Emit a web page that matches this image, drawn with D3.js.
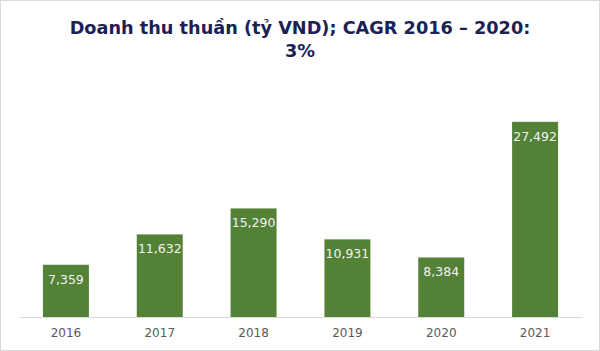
<!DOCTYPE html>
<html>
<head>
<meta charset="utf-8">
<script src="https://cdn.jsdelivr.net/npm/d3@7"></script>
<style>
  html, body { margin: 0; padding: 0; background: #fff; }
  svg { display: block; font-family: "DejaVu Sans", Verdana, sans-serif; }
</style>
</head>
<body>
<div id="chart"></div>
<script>
// Net revenue bar chart (billion VND)
const years = ['2016', '2017', '2018', '2019', '2020', '2021'];
const revenue = [7359, 11632, 15290, 10931, 8384, 27492];
const titleLines = ['Doanh thu thuần (tỷ VND); CAGR 2016 – 2020:', '3%'];

const width = 600, height = 351;
const margin = { top: 104, right: 18, bottom: 34, left: 19 };

const svg = d3.select('#chart').append('svg')
    .attr('width', width)
    .attr('height', height);

// outer frame
svg.append('rect')
    .attr('x', 0.5).attr('y', 0.5)
    .attr('width', width - 1).attr('height', height - 1)
    .attr('fill', '#fff')
    .attr('stroke', '#d9d9d9');

const x = d3.scaleBand()
    .domain(years)
    .range([margin.left, width - margin.right])
    .paddingInner(0.51)
    .paddingOuter(0.255);

const y = d3.scaleLinear()
    .domain([0, 30000])
    .range([height - margin.bottom, margin.top]);

// bars
svg.selectAll('.bar')
    .data(revenue)
    .enter()
    .append('rect')
    .attr('class', 'bar')
    .attr('x', (d, i) => x(years[i]))
    .attr('y', d => y(d))
    .attr('width', x.bandwidth())
    .attr('height', d => y(0) - y(d))
    .attr('fill', '#538135');

// value labels inside top of bars
svg.selectAll('.val')
    .data(revenue)
    .enter()
    .append('text')
    .attr('class', 'val')
    .attr('x', (d, i) => x(years[i]) + x.bandwidth() / 2)
    .attr('y', d => y(d) + 19)
    .attr('text-anchor', 'middle')
    .attr('font-size', '12.5px')
    .attr('fill', '#f2f2f2')
    .text(d => d3.format(',')(d));

// x axis
const xAxis = svg.append('g')
    .attr('transform', `translate(0,${y(0)})`)
    .call(d3.axisBottom(x).tickSize(0).tickPadding(11));
xAxis.select('.domain').attr('stroke', '#d9d9d9');
xAxis.selectAll('text')
    .attr('font-size', '12px')
    .attr('font-family', '"DejaVu Sans", Verdana, sans-serif')
    .attr('fill', '#595959');

// title
svg.append('g')
    .selectAll('text')
    .data(titleLines)
    .enter()
    .append('text')
    .attr('x', width / 2)
    .attr('y', (d, i) => 34 + i * 23)
    .attr('text-anchor', 'middle')
    .attr('font-size', '17.7px')
    .attr('font-weight', 'bold')
    .attr('fill', '#1b2155')
    .text(d => d);
</script>
</body>
</html>
